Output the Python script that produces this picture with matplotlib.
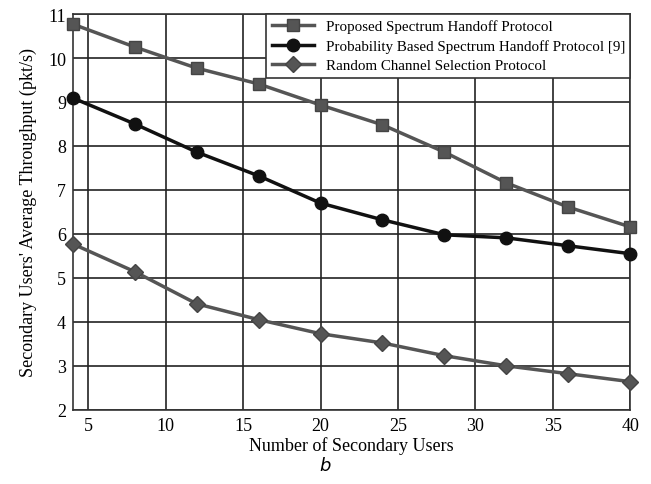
import matplotlib
matplotlib.use("Agg")
import matplotlib.pyplot as plt

users = [4, 8, 12, 16, 20, 24, 28, 32, 36, 40]
proposed = [10.77, 10.25, 9.77, 9.41, 8.93, 8.48, 7.86, 7.16, 6.61, 6.16]
probability = [9.09, 8.50, 7.86, 7.32, 6.70, 6.32, 5.98, 5.91, 5.73, 5.55]
random_sel = [5.77, 5.14, 4.41, 4.05, 3.73, 3.52, 3.23, 3.00, 2.82, 2.64]

labels = ["Proposed Spectrum Handoff Protocol",
          "Probability Based Spectrum Handoff Protocol [9]",
          "Random Channel Selection Protocol"]

plt.rcParams["font.family"] = ["Liberation Serif", "DejaVu Serif"]

fig = plt.figure(figsize=(6.51, 4.85), dpi=100)
ax = fig.add_axes([0.112, 0.153, 0.856, 0.816])

ax.plot(users, proposed, color="#555555", lw=2.5, marker="s", ms=9,
        markeredgecolor="#444444", label=labels[0], clip_on=False, zorder=3)
ax.plot(users, probability, color="#111111", lw=2.5, marker="o", ms=9,
        label=labels[1], clip_on=False, zorder=3)
ax.plot(users, random_sel, color="#555555", lw=2.5, marker="D", ms=8,
        markeredgecolor="#444444", label=labels[2], clip_on=False, zorder=3)

ax.set_xlim(4, 40)
ax.set_ylim(2, 11)
ax.set_xticks([5, 10, 15, 20, 25, 30, 35, 40])
ax.set_yticks(range(2, 12))
ax.grid(True, color="#222222", lw=1.2)
ax.tick_params(labelsize=13, length=0, pad=5)
for s in ax.spines.values():
    s.set_color("#333333")
    s.set_linewidth(1.2)

ax.set_xlabel("Number of Secondary Users", fontsize=13, labelpad=2)
ax.set_ylabel("Secondary Users' Average Throughput (pkt/s)", fontsize=13,
              labelpad=8)

leg = ax.legend(loc="upper right", fontsize=10.8, borderaxespad=0,
                fancybox=False, framealpha=1, edgecolor="#333333",
                handlelength=2.8, borderpad=0.35, labelspacing=0.4)
leg.get_frame().set_linewidth(1.2)
leg.set_zorder(5)

fig.text(0.5, 0.028, "b", fontsize=13, style="italic", ha="center",
         family="DejaVu Sans")

fig.savefig("out.png", dpi=100)
